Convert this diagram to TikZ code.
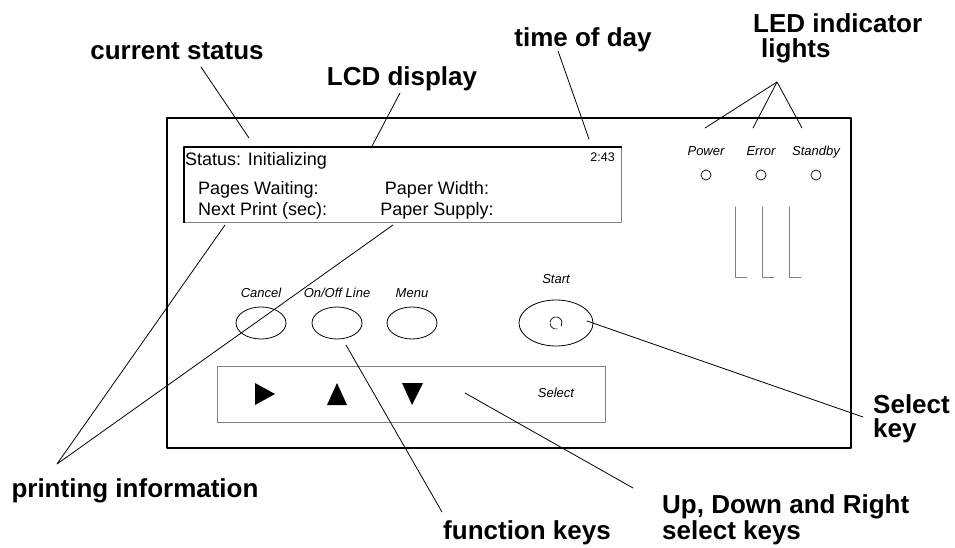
\documentclass[tikz,border=0pt]{standalone}
\usepackage{fontspec}
\setmainfont{Liberation Sans}
\usetikzlibrary{shapes.geometric}
\begin{document}
\begin{tikzpicture}[x=1pt,y=-1pt,line join=round,line cap=round]
	\tikzset{every node/.style={inner sep=0pt},
		callout/.style={font=\fontsize{26}{24}\selectfont\bfseries,anchor=base},
		lcdtext/.style={font=\fontsize{18}{18}\selectfont,anchor=base west},
		keylabel/.style={font=\fontsize{13}{13}\selectfont\itshape,anchor=base},
		leader/.style={line width=0.8pt},
		keycap/.style={draw,line width=0.8pt,ellipse,minimum width=50pt,minimum height=32pt}}
	\useasboundingbox (0,0) rectangle (955,548);
	% panel and display
	\draw[line width=2.2pt] (167,118) rectangle (851,448);
	\draw[gray,line width=0.8pt] (621,147)--(621,222)--(184,222);
	\draw[line width=2pt,line cap=butt] (622,147)--(184,147)--(184,223);
	\node[lcdtext] (status) at (185,166) {Status: Initializing};
	\node[font=\fontsize{12.5}{12.5}\selectfont,anchor=base east] (clock) at (615,162) {2:43};
	\node[lcdtext] (pages) at (198,194) {Pages Waiting:};
	\node[lcdtext] (next) at (198,215) {Next Print (sec):};
	\node[lcdtext,anchor=base] (width) at (437,194) {Paper Width:};
	\node[lcdtext,anchor=base] (supply) at (437,215) {Paper Supply:};
	% LED lights
	\foreach \name/\lab/\x in {power/Power/706,error/Error/761,standby/Standby/816}{
		\node[keylabel] (\name) at (\x,156) {\lab};
		\draw[line width=0.7pt] (\x,175) circle (5);
	}
	\foreach \x in {735,762,789}
		\draw[gray,line width=0.8pt] (\x,207)--(\x,277)--++(12,0);
	% function keys
	\foreach \name/\lab/\x in {cancel/Cancel/261,online/On\slash Off Line/337,menu/Menu/412}{
		\node[keylabel] at (\x,297) {\lab};
		\node[keycap] (\name) at (\x,323) {};
	}
	\node[keylabel] at (556,283) {Start};
	\node[keycap,minimum width=74pt,minimum height=46pt] (start) at (556,323) {};
	\draw[line width=0.7pt] (556,323) ++(80:6) arc (80:390:6);
	% select strip
	\draw[gray,line width=0.8pt] (217,366) rectangle (605,422);
	\fill (255,383)--(275,394)--(255,405)--cycle;
	\fill (327,405)--(337,383)--(347,405)--cycle;
	\fill (402,383)--(423,383)--(412,405)--cycle;
	\node[keylabel] (select) at (556,397) {Select};
	% callouts
	\node[callout] (cur) at (177,60) {current status};
	\node[callout] (lcd) at (402,86) {LCD display};
	\node[callout] (tod) at (583,47) {time of day};
	\node[callout,anchor=base west,align=left] (led) at (753,58) {LED indicator\\[1pt]\hspace*{8pt}lights};
	\node[callout] (print) at (135,497) {printing information};
	\node[callout] (fkeys) at (527,539) {function keys};
	\node[callout,anchor=base west,align=left] (updown) at (662,539) {Up, Down and Right\\select keys};
	\node[callout,anchor=base west,align=left] (selkey) at (873,437) {Select\\key};
	% leader lines
	\coordinate (ledtop) at (777,82);
	\coordinate (printtop) at (57,464);
	\draw[leader] (201,67)--(249,138);
	\draw[leader] (400,93)--(371,148);
	\draw[leader] (558,51)--(589,139);
	\foreach \x in {705,753,802}
		\draw[leader] (ledtop)--(\x,128);
	\draw[leader] (225,225)--(printtop)--(393,225);
	\draw[leader] (346,345)--(442,512);
	\draw[leader] (465,393)--(633,488);
	\draw[leader] (587,321)--(863,417);
\end{tikzpicture}
\end{document}
